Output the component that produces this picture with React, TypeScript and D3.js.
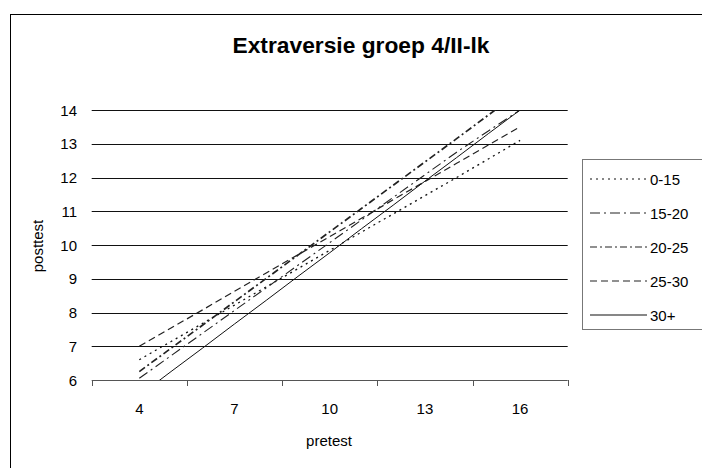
import React from "react";
import * as d3 from "d3";

const categories = [3, 4, 5, 6, 7, 8, 9, 10, 11, 12, 13, 14, 15, 16, 17];
const tickLabels = [4, 7, 10, 13, 16];
const yTicks = [6, 7, 8, 9, 10, 11, 12, 13, 14];

const s0_15 = [null, 6.6, 7.14, 7.68, 8.22, 8.76, 9.3, 9.84, 10.38, 10.92, 11.46, 12.0, 12.55, 13.1, null];
const s15_20 = [null, 6.05, 6.72, 7.39, 8.06, 8.73, 9.4, 10.07, 10.74, 11.41, 12.08, 12.75, 13.38, 14.0, null];
const s20_25 = [null, 6.25, 6.94, 7.63, 8.32, 9.01, 9.7, 10.39, 11.08, 11.77, 12.46, 13.15, 13.85, 14.55, null];
const s25_30 = [null, 7.0, 7.54, 8.08, 8.63, 9.17, 9.71, 10.25, 10.79, 11.34, 11.88, 12.42, 12.96, 13.5, null];
const s30 = [null, 5.54, 6.25, 6.95, 7.66, 8.36, 9.07, 9.77, 10.48, 11.18, 11.89, 12.59, 13.3, 14.0, null];

const seriesNames = ["0-15", "15-20", "20-25", "25-30", "30+"];
const seriesData = [s0_15, s15_20, s20_25, s25_30, s30];
const dashes = ["2,4", "10,4,2,4", "7,3,2,3", "7,4", ""];
const widths = [1.3, 1.1, 1.7, 1.2, 1];
const colors = ["#111", "#222", "#222", "#222", "#111"];

export default function App() {
  const W = 702, H = 468;
  const left = 91.7, right = 567.7, top = 110, bottom = 380;
  const x = d3.scaleBand<number>().domain(categories).range([left, right]);
  const y = d3.scaleLinear().domain([6, 14]).range([bottom, top]);
  const cx = (c: number) => (x(c) as number) + x.bandwidth() / 2;
  const font = "'Liberation Sans', Arial, sans-serif";

  const line = d3
    .line<number | null>()
    .defined((d) => d !== null)
    .x((_, i) => cx(categories[i]))
    .y((d) => y(d as number));

  const boundaries = [0, 3, 6, 9, 12, 15].map((i) => left + i * x.step());

  return (
    <svg width={W} height={H} style={{ position: "absolute", left: 0, top: 0, background: "#fff" }} fontFamily={font}>
      <defs>
        <clipPath id="plot">
          <rect x={left} y={top} width={right - left} height={bottom - top} />
        </clipPath>
      </defs>
      <rect x={10.5} y={14.5} width={W + 10} height={H + 10} fill="#fff" stroke="#000" strokeWidth={1} />
      <text x={361} y={53} textAnchor="middle" fontSize={22} fontWeight="bold" fill="#000" textLength={257} lengthAdjust="spacingAndGlyphs">
        Extraversie groep 4/II-lk
      </text>
      {yTicks.map((t) => (
        <g key={t}>
          {t !== 6 && (
            <line x1={left} x2={right} y1={Math.round(y(t)) + 0.5} y2={Math.round(y(t)) + 0.5} stroke="#111" strokeWidth={1} />
          )}
          <text x={77} y={y(t) + 5.5} textAnchor="end" fontSize={15} fill="#000">
            {t}
          </text>
        </g>
      ))}
      <line x1={left} x2={right} y1={bottom + 0.5} y2={bottom + 0.5} stroke="#555" strokeWidth={1} />
      {boundaries.map((b, i) => (
        <line key={i} x1={Math.round(b) + 0.5} x2={Math.round(b) + 0.5} y1={bottom} y2={bottom + 6} stroke="#555" />
      ))}
      {tickLabels.map((t) => (
        <text key={t} x={cx(t)} y={414} textAnchor="middle" fontSize={15} fill="#000">
          {t}
        </text>
      ))}
      <text x={329} y={446} textAnchor="middle" fontSize={15} fill="#000">
        pretest
      </text>
      <text transform={`translate(43,246) rotate(-90)`} textAnchor="middle" fontSize={15} fill="#000">
        posttest
      </text>
      <g clipPath="url(#plot)">
        {seriesData.map((s, i) => (
          <path
            key={i}
            d={line(s) || ""}
            fill="none"
            stroke={colors[i]}
            strokeWidth={widths[i]}
            strokeDasharray={dashes[i]}
          />
        ))}
      </g>
      <rect x={582.5} y={159.5} width={140} height={170} fill="#fff" stroke="#777" strokeWidth={1} />
      {seriesNames.map((n, i) => {
        const ly = 179 + i * 34;
        return (
          <g key={n}>
            <line x1={590} x2={647} y1={ly} y2={ly} stroke={colors[i]} strokeWidth={1.2} strokeDasharray={dashes[i]} />
            <text x={650} y={ly + 5.5} fontSize={15} fill="#000">
              {n}
            </text>
          </g>
        );
      })}
    </svg>
  );
}
